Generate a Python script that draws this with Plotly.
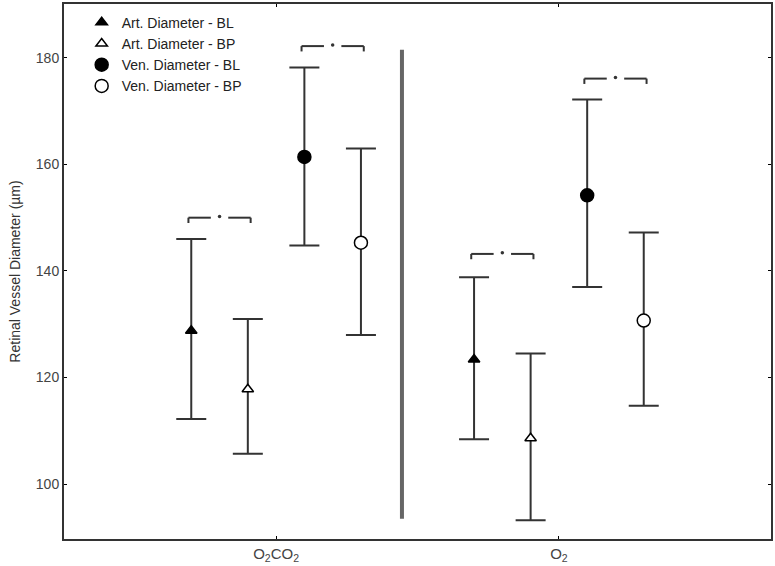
import plotly.graph_objects as go

# ---- data ----
categories = ["O<sub>2</sub>CO<sub>2</sub>", "O<sub>2</sub>"]
cat_pos = [1, 2]
series_names = ["Art. Diameter - BL", "Art. Diameter - BP",
                "Ven. Diameter - BL", "Ven. Diameter - BP"]
offsets = [-0.3, -0.1, 0.1, 0.3]
art_bl_mean = [128.8, 123.4]
art_bl_upper = [146.0, 138.8]
art_bl_lower = [112.2, 108.4]
art_bp_mean = [117.8, 108.6]
art_bp_upper = [131.0, 124.5]
art_bp_lower = [105.7, 93.2]
ven_bl_mean = [161.4, 154.2]
ven_bl_upper = [178.2, 172.2]
ven_bl_lower = [144.8, 137.0]
ven_bp_mean = [145.3, 130.7]
ven_bp_upper = [163.0, 147.2]
ven_bp_lower = [128.0, 114.7]
y_ticks = [100, 120, 140, 160, 180]
# significance brackets: (category index, first series, second series, y level)
sig_cat = [0, 0, 1, 1]
sig_pair_a = [0, 2, 0, 2]
sig_pair_b = [1, 3, 1, 3]
sig_y = [150.0, 182.2, 143.2, 176.1]
divider_x = 1.445
divider_y = [93.5, 181.5]

means = [art_bl_mean, art_bp_mean, ven_bl_mean, ven_bp_mean]
uppers = [art_bl_upper, art_bp_upper, ven_bl_upper, ven_bp_upper]
lowers = [art_bl_lower, art_bp_lower, ven_bl_lower, ven_bp_lower]
symbols = ["triangle-up", "triangle-up", "circle", "circle"]
fills = ["black", "white", "black", "white"]
sizes = [10, 10, 13, 13]

ink = "#333333"
fig = go.Figure()
for i, name in enumerate(series_names):
    xs = [c + offsets[i] for c in cat_pos]
    m = means[i]
    up = [u - v for u, v in zip(uppers[i], m)]
    dn = [v - l for v, l in zip(m, lowers[i])]
    fig.add_trace(go.Scatter(
        x=xs, y=m, mode="markers", name=name,
        marker=dict(symbol=symbols[i], size=sizes[i], color=fills[i],
                    line=dict(color="black", width=1.5)),
        error_y=dict(type="data", symmetric=False, array=up, arrayminus=dn,
                     color=ink, thickness=2, width=15),
    ))

# significance brackets
dots_x, dots_y = [], []
for k in range(len(sig_y)):
    xa = cat_pos[sig_cat[k]] + offsets[sig_pair_a[k]] - 0.01
    xb = cat_pos[sig_cat[k]] + offsets[sig_pair_b[k]] + 0.01
    y = sig_y[k]
    seg = (xb - xa) * 0.36
    for x0, x1 in [(xa, xa + seg), (xb - seg, xb)]:
        fig.add_shape(type="line", x0=x0, x1=x1, y0=y, y1=y, xref="x", yref="y",
                      line=dict(color=ink, width=2))
    for xe in [xa, xb]:
        fig.add_shape(type="line", x0=xe, x1=xe, y0=y, y1=y - 1.0, xref="x", yref="y",
                      line=dict(color=ink, width=2))
    dots_x.append((xa + xb) / 2)
    dots_y.append(y + 0.2)
fig.add_trace(go.Scatter(x=dots_x, y=dots_y, mode="markers", showlegend=False,
                         marker=dict(size=3.5, color=ink), hoverinfo="skip"))

# divider
fig.add_shape(type="line", x0=divider_x, x1=divider_x, y0=divider_y[0], y1=divider_y[1],
              xref="x", yref="y", line=dict(color="#666666", width=4))

fig.update_layout(
    width=775, height=566,
    margin=dict(l=64, r=2, t=3, b=26),
    paper_bgcolor="white", plot_bgcolor="white",
    font=dict(family="Liberation Sans, Arial, sans-serif", size=12, color=ink),
    showlegend=True,
    legend=dict(x=0.025, y=0.995, xanchor="left", yanchor="top",
                bgcolor="rgba(0,0,0,0)", font=dict(size=14, color="#222222"),
                tracegroupgap=0, itemwidth=30),
)
fig.update_xaxes(range=[0.25, 2.75], tickvals=cat_pos, ticktext=categories,
                 showgrid=False, zeroline=False, showline=True, linecolor=ink,
                 linewidth=2, mirror="ticks", ticks="inside", ticklen=3,
                 tickcolor="black", tickfont=dict(size=15, color="#444444"))
fig.update_yaxes(range=[89.7, 190.1], tickvals=y_ticks, showgrid=False,
                 zeroline=False, showline=True, linecolor=ink, linewidth=2,
                 mirror="ticks", ticks="inside", ticklen=3, tickcolor="black",
                 tickfont=dict(size=14, color="#444444"),
                 title=dict(text="Retinal Vessel Diameter (µm)", standoff=12,
                            font=dict(size=14, color="#333333")))

fig.write_html("out.html",
               config={"displayModeBar": False},
               post_script="document.body.style.margin='0';document.body.style.overflow='hidden';")
